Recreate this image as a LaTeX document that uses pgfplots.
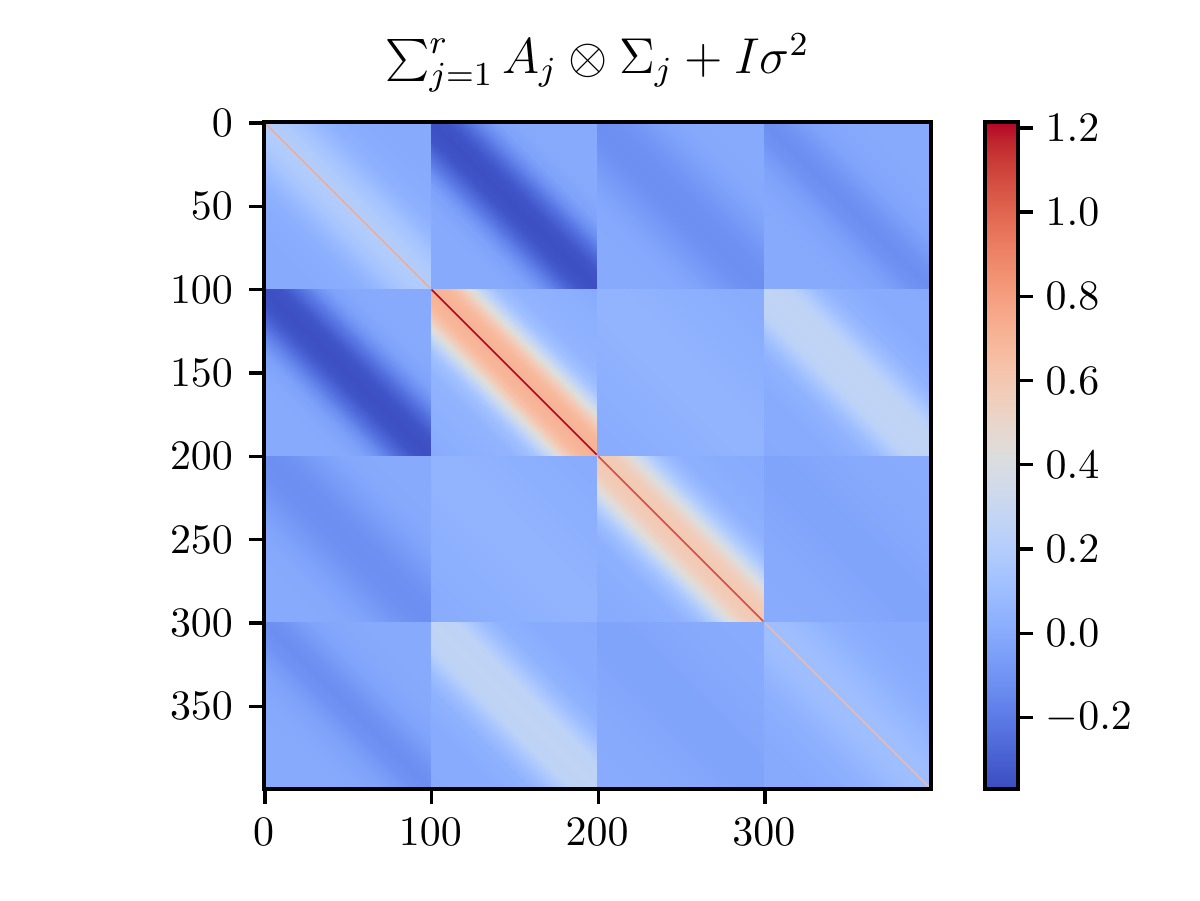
\documentclass[border=0pt,10pt]{standalone}
\usepackage{pgfplots}
\pgfplotsset{compat=1.18}
\pgfplotsset{colormap={cw}{
rgb=(0.2298057,0.298717966,0.753683153) rgb=(0.26623388,0.353094838,0.801466763) rgb=(0.30386891,0.406535296,0.84495867)
rgb=(0.342804478,0.458757618,0.883725899) rgb=(0.38301334,0.50941904,0.917387822) rgb=(0.424369608,0.558148092,0.945619588)
rgb=(0.46666708,0.604562568,0.968154911) rgb=(0.509635204,0.648280772,0.98478814) rgb=(0.552953156,0.688929332,0.995375608)
rgb=(0.596262162,0.726149107,0.999836203) rgb=(0.639176211,0.759599947,0.998151185) rgb=(0.681291281,0.788964712,0.990363227)
rgb=(0.722193294,0.813952739,0.976574709) rgb=(0.761464949,0.834302879,0.956945269) rgb=(0.798691636,0.849786142,0.931688648)
rgb=(0.833466556,0.860207984,0.901068838) rgb=(0.865395197,0.86541021,0.865395561) rgb=(0.897787179,0.848937047,0.820880546)
rgb=(0.924127593,0.827384882,0.774508472) rgb=(0.944468518,0.800927443,0.726736146) rgb=(0.958852946,0.769767752,0.678007945)
rgb=(0.96732803,0.734132809,0.628751763) rgb=(0.969954137,0.694266682,0.579375448) rgb=(0.966811177,0.650421156,0.530263762)
rgb=(0.958003065,0.602842431,0.481775914) rgb=(0.943660866,0.551750968,0.434243684) rgb=(0.923944917,0.49730856,0.387970225)
rgb=(0.89904617,0.439559467,0.343229596) rgb=(0.869186849,0.378313092,0.300267182) rgb=(0.834620542,0.312874446,0.259301199)
rgb=(0.795631745,0.24128379,0.220525627) rgb=(0.752534934,0.157246067,0.184115123) rgb=(0.705673158,0.01555616,0.150232812)
}}
% every block of the matrix depends on the offset from its diagonal only:
% offset/value pairs
\def\pOO{0/0.2,10/0.18,20/0.135,30/0.075,40/0.03,50/0.01,70/0.0,100/0.0}
\def\pOA{0/-0.36,10/-0.34,15/-0.30,20/-0.25,25/-0.19,30/-0.13,35/-0.08,40/-0.04,50/-0.01,60/0.0,100/0.0}
\def\pOB{0/-0.12,10/-0.115,20/-0.09,30/-0.06,40/-0.03,50/-0.01,70/0.0,100/0.0}
\def\pOC{0/-0.125,10/-0.105,20/-0.065,30/-0.03,40/-0.015,50/-0.005,70/0.0,100/0.0}
\def\pAA{0/0.72,10/0.69,15/0.63,20/0.53,25/0.4,30/0.27,35/0.17,40/0.11,50/0.05,70/0.03,100/0.0}
\def\pAB{0/0.05,20/0.045,40/0.03,60/0.02,80/0.01,100/0.005}
\def\pAC{0/0.265,15/0.25,20/0.2,30/0.1,40/0.04,50/0.02,60/0.005,100/0.0}
\def\pBB{0/0.6,10/0.57,15/0.51,20/0.42,25/0.32,30/0.21,35/0.14,40/0.09,50/0.03,70/0.01,100/0.0}
\def\pBC{0/-0.03,15/-0.027,30/-0.015,45/-0.007,60/0.0,100/0.005}
\def\pCC{0/0.105,10/0.1,20/0.08,30/0.055,40/0.03,55/0.01,70/0.0,100/0.0}
\gdef\patchdata{}
\newcommand{\blk}[3]{%
  \gdef\pd{}%
  \edef\plist{#3}%
  \foreach \d/\v in \plist {%
    \ifx\pd\empty\else
      \xdef\patchdata{\patchdata
        (\the\numexpr#1+\pd\relax,#2) [\pv]
        (\the\numexpr#1+\d\relax,#2) [\v]
        (\the\numexpr#1+100\relax,\the\numexpr#2+100-\d\relax) [\v]
        (\the\numexpr#1+100\relax,\the\numexpr#2+100-\pd\relax) [\pv]
        (#1,\the\numexpr#2+\pd\relax) [\pv]
        (#1,\the\numexpr#2+\d\relax) [\v]
        (\the\numexpr#1+100-\d\relax,\the\numexpr#2+100\relax) [\v]
        (\the\numexpr#1+100-\pd\relax,\the\numexpr#2+100\relax) [\pv]
      }%
    \fi
    \xdef\pd{\d}\xdef\pv{\v}%
  }%
}
\blk{0}{0}{\pOO}\blk{100}{0}{\pOA}\blk{200}{0}{\pOB}\blk{300}{0}{\pOC}
\blk{0}{100}{\pOA}\blk{100}{100}{\pAA}\blk{200}{100}{\pAB}\blk{300}{100}{\pAC}
\blk{0}{200}{\pOB}\blk{100}{200}{\pAB}\blk{200}{200}{\pBB}\blk{300}{200}{\pBC}
\blk{0}{300}{\pOC}\blk{100}{300}{\pAC}\blk{200}{300}{\pBC}\blk{300}{300}{\pCC}
\def\drawit{\addplot[patch,patch type=rectangle,shader=interp,point meta=explicit,
  x filter/.expression={x-0.5},y filter/.expression={y-0.5}] coordinates}
\begin{document}
\begin{tikzpicture}
\path[use as bounding box] (0,0) rectangle (288bp,216bp);
\begin{axis}[
  at={(63.36bp,26.64bp)},anchor=south west,
  scale only axis,width=160.08bp,height=160.08bp,
  xmin=-0.5,xmax=399.5,ymin=-0.5,ymax=399.5,y dir=reverse,
  xtick={0,100,200,300},ytick={0,50,100,150,200,250,300,350},
  xtick pos=bottom,ytick pos=left,tick align=outside,
  major tick length=3.5bp,
  axis line style={line width=0.8bp},
  every tick/.style={black,line width=0.8bp},
  every tick label/.append style={scale=1.01},
  xticklabel style={xshift=-0.3bp},
  yticklabel style={xshift=-0.4bp},
  axis on top,
  colormap name=cw,
  point meta min=-0.37,point meta max=1.214,
  title={$\sum_{j=1}^{r} A_j \otimes \Sigma_j + I\sigma^2$},
  title style={font=\large,scale=1.012,at={(0.5,1)},anchor=south,yshift=-2.4bp},
  colorbar,
  colorbar style={
    at={(1.08096,1)},anchor=north west,
    width=7.92bp,height=160.08bp,
    ytick={-0.2,0,0.2,0.4,0.6,0.8,1.0,1.2},
    ytick pos=right,yticklabel pos=right,
    yticklabel style={xshift=-0.4bp,/pgf/number format/fixed,/pgf/number format/fixed zerofill,/pgf/number format/precision=1},
    major tick length=3.5bp,tick align=outside,
    axis line style={line width=0.8bp},
    every tick/.style={black,line width=0.8bp},
  },
]
\expandafter\drawit\expandafter{\patchdata};
\addplot[mesh,point meta=explicit,line width=0.36bp] coordinates {(0,0) [0.75] (99,99) [0.75]};
\addplot[mesh,point meta=explicit,line width=0.36bp] coordinates {(100,100) [1.214] (199,199) [1.214]};
\addplot[mesh,point meta=explicit,line width=0.36bp] coordinates {(200,200) [1.07] (299,299) [1.07]};
\addplot[mesh,point meta=explicit,line width=0.36bp] coordinates {(300,300) [0.68] (399,399) [0.68]};
\end{axis}
\end{tikzpicture}
\end{document}
